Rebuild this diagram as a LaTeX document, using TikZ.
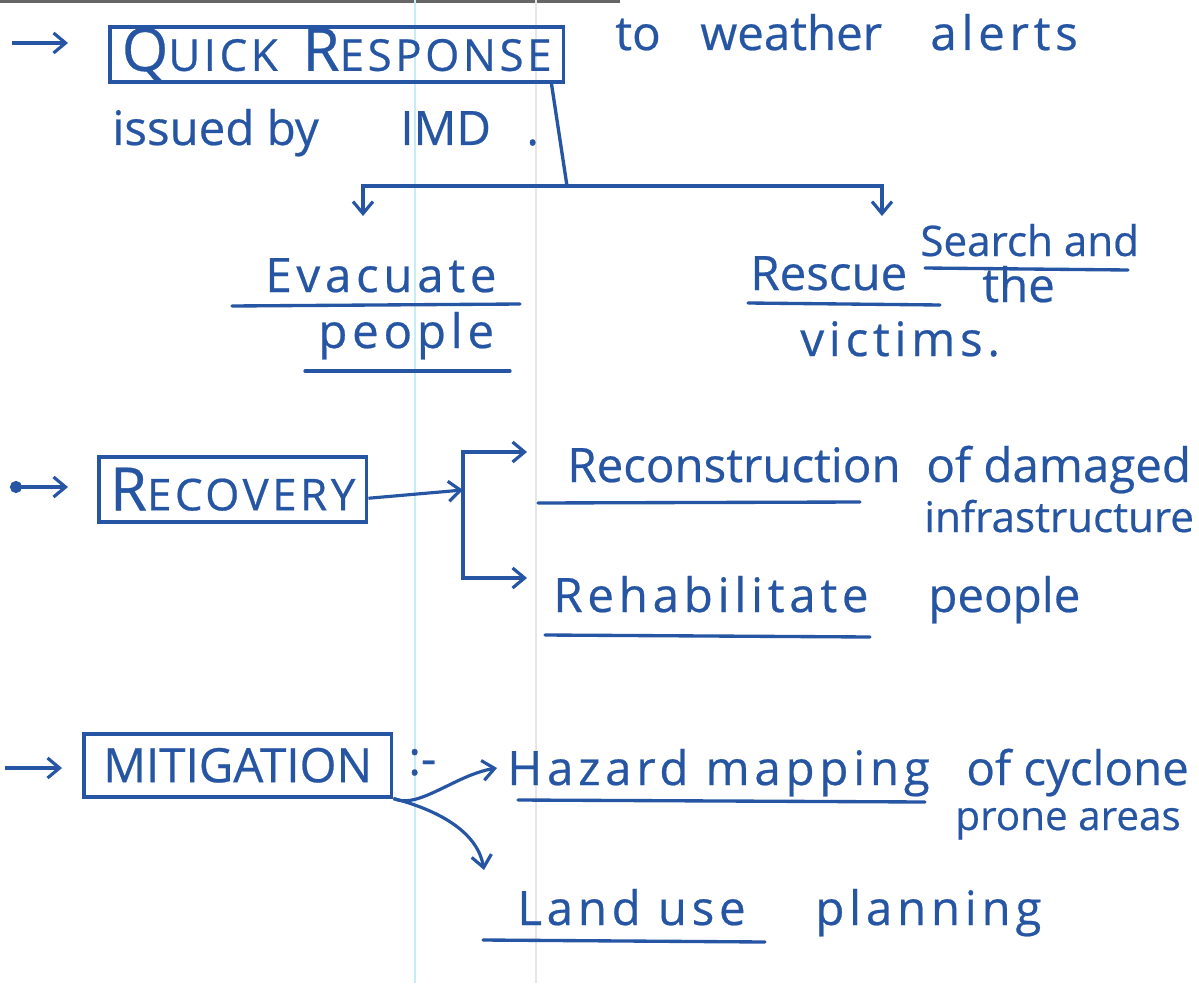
\documentclass[tikz,border=0pt]{standalone}
\usepackage{fontspec}
\setmainfont{Open Sans}
\usepackage{xcolor}
\definecolor{cInk}{HTML}{2656A3}
\definecolor{cRule}{HTML}{C6ECF4}
\definecolor{cFaint}{HTML}{E6E6E6}
\usepackage{tikz}
\usetikzlibrary{positioning,arrows.meta}
\tikzset{
  note-box/.style={draw=cInk,line width=2pt,text=cInk,inner sep=0pt,
    anchor=north west,font=\fontsize{25}{25}\selectfont\addfontfeatures{LetterSpace=8,FakeBold=0.5}},
  note-text/.style={text=cInk,anchor=base west,inner sep=0pt,
    font=\fontsize{27}{30}\selectfont\addfontfeatures{FakeBold=0.5}},
  note-wide/.style={note-text,font=\fontsize{27}{30}\selectfont\addfontfeatures{LetterSpace=10,FakeBold=0.5}},
  note-mid/.style={note-text,font=\fontsize{24}{27}\selectfont\addfontfeatures{FakeBold=0.5}},
  note-small/.style={note-text,font=\fontsize{23}{25}\selectfont\addfontfeatures{FakeBold=0.5}},
  arrow/.style={-{Straight Barb[length=2.4mm,width=4mm]},line width=1.8pt,draw=cInk},
  arrow-dot/.style={{Circle[length=2.4mm]}-{Straight Barb[length=2.4mm,width=4mm]},line width=1.8pt,draw=cInk},
  uline/.style={draw=cInk,line width=1.9pt,line cap=round},
}
\newcommand{\capbig}[1]{{\fontsize{34}{34}\selectfont #1}}

\begin{document}
\begin{tikzpicture}[x=0.02cm,y=-0.02cm]
  \fill[white] (0,0) rectangle (1199,983);
  \useasboundingbox (0,0) rectangle (1199,983);
  % page ruling and scan edge
  \fill[black!60] (0,0) rectangle (620,3);
  \draw[cRule,line width=0.6pt] (415,0) -- (415,983);
  \draw[cFaint,line width=0.6pt] (536,0) -- (536,983);

  % --- quick response
  \node[note-box,minimum width=9.08cm,minimum height=1.1cm] (qr) at (108,25)
    {\capbig{Q}UICK\hspace{0.5cm}\capbig{R}ESPONSE};
  \node[note-text] (to) at (615,50) {to};
  \node[note-text] (weather) at (700,50) {weather};
  \node[note-wide] (alerts) at (930,50) {alerts};
  \node[note-text] (issued) at (112,145) {issued by};
  \node[note-text] (imd) at (400,145) {IMD};
  \node[note-text] (imd-dot) at (526,145) {.};
  \coordinate (qr-mark) at (12,43);
  \coordinate (qr-in) at (68,43);
  \draw[arrow] (qr-mark) -- (qr-in);

  \node[note-wide] (evac) at (265,292) {Evacuate};
  \node[note-wide] (evac-b) at (318,348) {people};
  \node[note-text] (rescue) at (750,290) {Rescue};
  \node[note-mid] (search) at (920,256) {Search and};
  \node[note-text] (search-b) at (982,302) {the};
  \node[note-wide] (search-c) at (800,356) {victims.};

  \coordinate (qr-split) at (567,186);
  \coordinate (evac-in) at (363,216);
  \coordinate (rescue-in) at (882,216);
  \draw[uline] ([xshift=-0.28cm]qr.south east) -- (qr-split);
  \draw[arrow] (qr-split) -| (evac-in);
  \draw[arrow] (qr-split) -| (rescue-in);

  \draw[uline] (232,306) -- (520,304);
  \draw[uline] (305,371) -- (510,371);
  \draw[uline] (748,303) -- (940,305);
  \draw[uline] (925,268) -- (1128,270);

  % --- recovery
  \node[note-box,minimum width=5.36cm,minimum height=1.3cm] (rec) at (97,455)
    {\capbig{R}ECOVERY};
  \coordinate (rec-mark) at (10,487);
  \coordinate (rec-in) at (68,487);
  \draw[arrow-dot] (rec-mark) -- (rec-in);
  \coordinate (rec-fork) at (463,490);
  \coordinate (recon-in) at (527,452);
  \coordinate (rehab-in) at (527,578);
  \draw[arrow] ([yshift=-0.18cm]rec.east) -- (rec-fork);
  \draw[arrow] (rec-fork) |- (recon-in);
  \draw[arrow] (rec-fork) |- (rehab-in);

  \node[note-text] (recon) at (567,482) {Reconstruction};
  \node[note-text] (recon-b) at (926,482) {of damaged};
  \node[note-mid] (recon-c) at (924,532) {infrastructure};
  \node[note-wide] (rehab) at (553,612) {Rehabilitate};
  \node[note-text] (rehab-b) at (928,612) {people};
  \draw[uline] (538,503) -- (860,502);
  \draw[uline] (545,635) -- (870,637);

  % --- mitigation
  \node[note-box,minimum width=6.16cm,minimum height=1.26cm,
    font=\fontsize{27}{27}\selectfont\addfontfeatures{FakeBold=0.5}] (mit) at (82,732)
    {MITIGATION};
  \node[note-text] (colon) at (408,775) {:-};
  \coordinate (mit-mark) at (5,768);
  \coordinate (mit-in) at (62,768);
  \draw[arrow] (mit-mark) -- (mit-in);

  \node[note-wide] (haz) at (507,785) {Hazard mapping};
  \node[note-text] (haz-b) at (966,785) {of cyclone};
  \node[note-small] (haz-c) at (955,830) {prone areas};
  \node[note-wide] (land) at (517,925) {Land use};
  \node[note-wide] (land-b) at (815,925) {planning};
  \draw[uline] (518,800) -- (925,802);
  \draw[uline] (483,940) -- (765,942);

  \coordinate (haz-in) at (497,768);
  \coordinate (land-in) at (484,870);
  \draw[arrow] (mit.south east) .. controls (418,810) and (455,775) .. (haz-in);
  \draw[arrow] (mit.south east) .. controls (445,812) and (478,835) .. (land-in);
\end{tikzpicture}
\end{document}
